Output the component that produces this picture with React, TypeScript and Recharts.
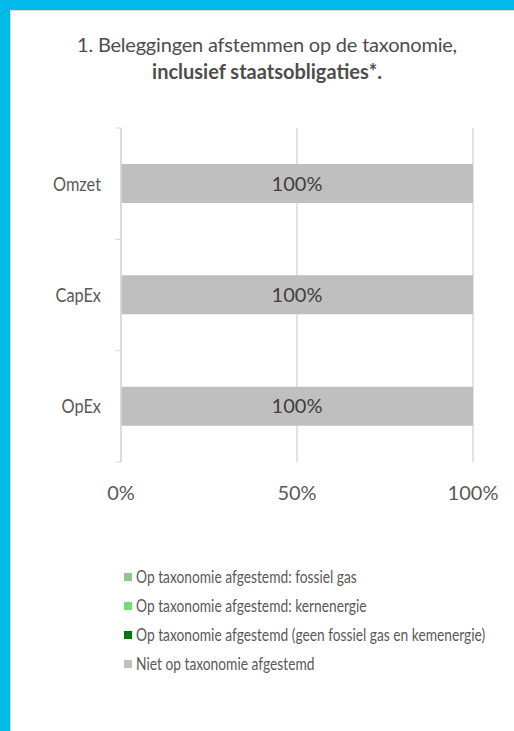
import React from "react";
import { BarChart, Bar, XAxis, YAxis, CartesianGrid, LabelList } from "recharts";

const categories = ["Omzet", "CapEx", "OpEx"];
const fossielGas = [0, 0, 0];
const kernenergie = [0, 0, 0];
const geenFossielKern = [0, 0, 0];
const nietAfgestemd = [1, 1, 1];
const xTicks = [0, 0.5, 1];

const seriesNames = [
  "Op taxonomie afgestemd: fossiel gas",
  "Op taxonomie afgestemd: kernenergie",
  "Op taxonomie afgestemd (geen fossiel gas en kemenergie)",
  "Niet op taxonomie afgestemd",
];
const seriesColors = ["#8cc78c", "#6fdc75", "#007a00", "#bfbfbf"];

const data = categories.map((c, i) => ({
  name: c,
  fossiel: fossielGas[i],
  kern: kernenergie[i],
  geen: geenFossielKern[i],
  niet: nietAfgestemd[i],
}));

const FONT = "Lato, 'Open Sans', sans-serif";
const PLOT_TOP = 128;
const PLOT_BOTTOM = 462;
const BAND = (PLOT_BOTTOM - PLOT_TOP) / categories.length;

const pct = (v: number) => `${Math.round(v * 100)}%`;

const YTick = (props: any) => {
  const { x, y, payload, index } = props;
  const top = y - BAND / 2;
  const axisX = x + 8;
  return (
    <g>
      <line x1={axisX - 6} x2={axisX} y1={top} y2={top} stroke="#d9d9d9" strokeWidth={1} />
      {index === categories.length - 1 && (
        <line x1={axisX - 6} x2={axisX} y1={top + BAND} y2={top + BAND} stroke="#d9d9d9" strokeWidth={1} />
      )}
      <g transform={`translate(101, ${y}) scale(0.86, 1)`}>
        <text x={0} y={0} textAnchor="end" dominantBaseline="central" fill="#595959" fontSize={19} fontFamily={FONT}>
          {payload.value}
        </text>
      </g>
    </g>
  );
};

export default function App() {
  return (
    <div style={{ position: "absolute", left: 0, top: 0, width: 514, height: 731, background: "#fff", overflow: "hidden" }}>
      <div style={{ position: "absolute", left: 0, top: 0, width: 514, height: 10, background: "#00bbe7" }} />
      <div style={{ position: "absolute", left: 0, top: 0, width: 10, height: 731, background: "#00bbe7" }} />
      <div style={{ position: "absolute", left: 10, top: 10, width: 504, height: 1, background: "#d9d9d9" }} />
      <div style={{ position: "absolute", left: 10, top: 10, width: 1, height: 721, background: "#d9d9d9" }} />

      <div style={{ position: "absolute", left: 20, top: 31, width: 494, textAlign: "center", fontFamily: FONT, fontSize: 20, lineHeight: "27px", color: "#4d4d4d" }}>
        <div style={{ letterSpacing: "-0.2px" }}>1. Beleggingen afstemmen op de taxonomie,</div>
        <div style={{ fontWeight: 700 }}>inclusief staatsobligaties*.</div>
      </div>

      <div style={{ position: "absolute", left: 0, top: 0 }}>
        <BarChart width={514} height={520} data={data} layout="vertical" margin={{ top: PLOT_TOP, right: 41, bottom: 0, left: 0 }} barSize={39}>
          <CartesianGrid horizontal={false} vertical={true} stroke="#d9d9d9" strokeWidth={1.5} />
          <XAxis
            type="number"
            domain={[0, 1]}
            ticks={xTicks}
            tickFormatter={pct}
            axisLine={false}
            tickLine={false}
            height={58}
            tickMargin={18}
            tick={{ fill: "#595959", fontSize: 20, fontFamily: FONT }}
            interval={0}
          />
          <YAxis
            type="category"
            dataKey="name"
            width={121}
            axisLine={{ stroke: "#d9d9d9", strokeWidth: 1.5 }}
            tickLine={false}
            tick={<YTick />}
            interval={0}
          />
          <Bar dataKey="fossiel" stackId="a" fill={seriesColors[0]} isAnimationActive={false} />
          <Bar dataKey="kern" stackId="a" fill={seriesColors[1]} isAnimationActive={false} />
          <Bar dataKey="geen" stackId="a" fill={seriesColors[2]} isAnimationActive={false} />
          <Bar dataKey="niet" stackId="a" fill={seriesColors[3]} isAnimationActive={false}>
            <LabelList dataKey="niet" position="center" formatter={(v: any) => pct(Number(v))} fill="#404040" fontSize={20} fontFamily={FONT} />
          </Bar>
        </BarChart>
      </div>

      <div style={{ position: "absolute", left: 124, top: 566, fontFamily: FONT, color: "#595959" }}>
        {seriesNames.map((n, i) => (
          <div key={n} style={{ height: 29, display: "flex", alignItems: "flex-start" }}>
            <div style={{ width: 8, height: 8, background: seriesColors[i], marginTop: 7, marginRight: 4, flex: "none" }} />
            <div style={{ fontSize: 17, lineHeight: "22px", whiteSpace: "nowrap", transform: "scaleX(0.81)", transformOrigin: "left center" }}>{n}</div>
          </div>
        ))}
      </div>
    </div>
  );
}
